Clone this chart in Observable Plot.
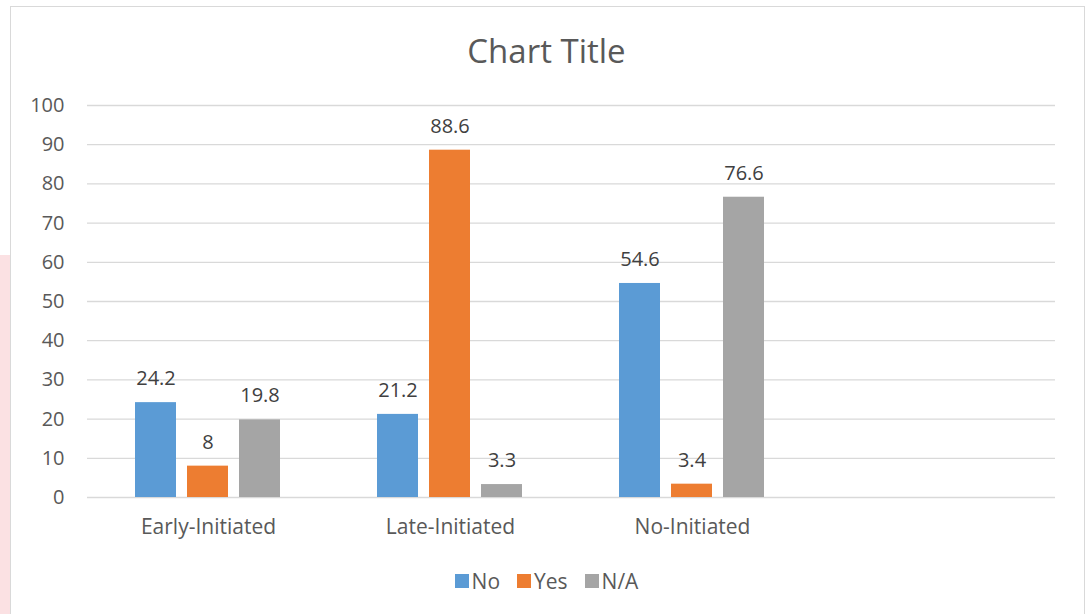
<!DOCTYPE html>
<html>
<head>
<meta charset="utf-8">
<script src="https://cdn.jsdelivr.net/npm/d3@7"></script>
<script src="https://cdn.jsdelivr.net/npm/@observablehq/plot@0.6"></script>
<style>
  html, body { margin: 0; padding: 0; background: #fff; width: 1085px; height: 614px; overflow: hidden; font-family: "Open Sans", sans-serif; }
  #pink { position: absolute; left: 0; top: 255px; width: 10px; height: 400px; background: #fbe1e3; }
  #frame { position: absolute; left: 10px; top: 6px; width: 1073px; height: 640px; border: 1px solid #d9d9d9; background: #fff; }
  #title { position: absolute; left: 0; width: 1085px; top: 28px; text-align: center; font-size: 33px; color: #595959; line-height: 46px; padding-left: 8px; box-sizing: border-box; }
  #chart { position: absolute; left: 0; top: 85px; }
  #legend { position: absolute; left: 0; width: 1085px; top: 568px; display: flex; justify-content: center; gap: 17px; font-size: 21px; color: #595959; line-height: 26px; padding-left: 8px; box-sizing: border-box; }
  .item { display: flex; align-items: center; gap: 3px; }
  .sw { width: 14px; height: 14px; display: inline-block; }
</style>
</head>
<body>
<div id="pink"></div>
<div id="frame"></div>
<div id="title">Chart Title</div>
<div id="chart"></div>
<div id="legend"></div>
<script>
const categories = ["Early-Initiated", "Late-Initiated", "No-Initiated"];
const series = ["No", "Yes", "N/A"];
const noValues = [24.2, 21.2, 54.6];
const yesValues = [8, 88.6, 3.4];
const naValues = [19.8, 3.3, 76.6];
const colors = ["#5b9bd5", "#ed7d31", "#a5a5a5"];
const yTicks = [0, 10, 20, 30, 40, 50, 60, 70, 80, 90, 100];

const valuesBySeries = [noValues, yesValues, naValues];
const data = [];
categories.forEach((c, i) => {
  series.forEach((s, j) => {
    data.push({category: c, series: s, value: valuesBySeries[j][i]});
  });
});

// the chart reserves an empty fourth category slot
const fxDomain = [...categories, ""];
const gridData = fxDomain.flatMap(c => yTicks.map(t => ({category: c, tick: t})));

const plot = Plot.plot({
  width: 1085,
  height: 462,
  marginLeft: 86,
  marginRight: 30,
  marginTop: 20,
  marginBottom: 50,
  style: {fontFamily: "Open Sans, sans-serif", color: "#595959", background: "transparent", overflow: "visible"},
  fx: {domain: fxDomain, padding: 0, axis: null, label: null},
  x: {domain: series, paddingInner: 0.2075, paddingOuter: 0.887, axis: null, label: null},
  y: {domain: [0, 100], axis: null, label: null},
  color: {domain: series, range: colors},
  marks: [
    Plot.ruleY(gridData, {fx: "category", y: "tick", stroke: "#d9d9d9", strokeWidth: 1.3}),
    Plot.axisY({ticks: yTicks, tickSize: 0, tickPadding: 23, fontSize: 20, label: null}),
    Plot.barY(data, {fx: "category", x: "series", y: "value", fill: "series"}),
    Plot.text(data, {fx: "category", x: "series", y: "value", text: d => String(d.value), dy: -24, fontSize: 20, fill: "#404040"}),
    Plot.axisFx({anchor: "bottom", tickSize: 0, tickPadding: 22, fontSize: 21, label: null, tickFormat: d => d})
  ]
});
document.getElementById("chart").appendChild(plot);

const legend = document.getElementById("legend");
series.forEach((s, i) => {
  const item = document.createElement("div");
  item.className = "item";
  const sw = document.createElement("span");
  sw.className = "sw";
  sw.style.background = colors[i];
  const t = document.createElement("span");
  t.textContent = s;
  item.appendChild(sw);
  item.appendChild(t);
  legend.appendChild(item);
});
</script>
</body>
</html>
